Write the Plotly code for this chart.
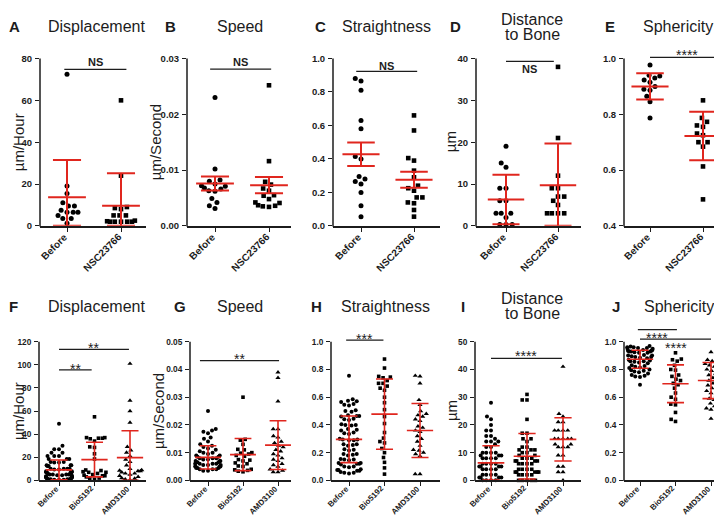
import math
import plotly.graph_objects as go

W, H = 722, 515
FONT = "Arial, Liberation Sans, Helvetica, sans-serif"
RED = "#E0261E"
INK = "#1c1c1c"

# ------------------------------------------------------------------ data
TOP_CATS = ["Before", "NSC23766"]
BOT_CATS = ["Before", "Bio5192", "AMD3100"]

A_before = [72.5, 19, 15.5, 11, 9.5, 9.5, 7.5, 6.5, 6.5, 6.5, 5, 3.5, 3.5, 1.2]
A_nsc = [60, 24, 9, 8.5, 8, 5, 5, 5, 2.5, 2.2, 2, 2, 2, 2, 2]
A_mean = [13.7, 9.6]
A_err = [17.8, 15.5]          # SD

B_before = [0.023, 0.0102, 0.0082, 0.008, 0.0075, 0.0072, 0.0071, 0.0068, 0.0066,
            0.0063, 0.0062, 0.0049, 0.0042, 0.0036, 0.0031]
B_nsc = [0.0252, 0.0116, 0.0079, 0.0074, 0.0067, 0.0063, 0.0055, 0.0054, 0.0048,
         0.0042, 0.0041, 0.0037, 0.0036, 0.0035, 0.0034]
B_mean = [0.0076, 0.0073]
B_err = [0.00125, 0.00145]    # SEM

C_before = [0.88, 0.865, 0.81, 0.63, 0.58, 0.415, 0.40, 0.295, 0.28, 0.265, 0.25,
            0.20, 0.12, 0.055]
C_nsc = [0.66, 0.57, 0.405, 0.39, 0.33, 0.29, 0.24, 0.225, 0.21, 0.17, 0.17, 0.14,
         0.135, 0.095, 0.055]
C_mean = [0.428, 0.276]
C_err = [0.07, 0.048]         # SEM

D_before = [19, 15, 14, 9, 9, 6, 6, 3, 3, 3, 2, 0.3, 0.3, 0.3]
D_nsc = [38, 21, 12, 9, 9, 7, 7, 6, 5, 3, 3, 3, 3]
D_mean = [6.3, 9.7]
D_err = [5.9, 10.0]           # SD

E_before = [0.977, 0.94, 0.937, 0.93, 0.923, 0.915, 0.90, 0.89, 0.886, 0.865, 0.845,
            0.787]
E_nsc = [0.85, 0.787, 0.773, 0.76, 0.755, 0.731, 0.725, 0.70, 0.70, 0.684, 0.613,
         0.495]
E_mean = [0.90, 0.722]
E_err = [0.047, 0.087]        # SD

F_before = [49, 30, 27, 27, 24, 24, 21, 21, 21, 18.5, 18.5, 18.5, 16, 16, 15.5, 15.5,
            13, 13, 13, 12.5, 12.5, 10, 10, 10, 10, 9.5, 9.5, 8, 8, 7, 7, 7, 7, 6.5,
            6.5, 6, 5, 5, 5, 5, 4.5, 4.5, 4, 3.5, 3, 3, 3, 3, 2.5, 2.5, 2, 2, 1.5,
            1.5, 1, 1, 1, 1, 0.5, 0.5, 0.5]
F_bio = [55, 37, 37, 36.5, 36.5, 36, 34, 29, 28.5, 23, 18.5, 9, 8.5, 7.5, 7, 7, 6, 5,
         4.5, 4, 4, 3, 2, 1.5, 1]
F_amd = [101, 69, 60, 50, 29, 26, 24, 21, 18, 16, 13, 10, 9, 8.5, 8, 8, 7, 6, 6, 5, 4,
         3, 2, 1.5, 1, 0.5]
F_mean = [9.1, 18.0, 19.7]
F_err = [8.5, 15.0, 23.2]

G_before = [0.025, 0.0185, 0.018, 0.0175, 0.017, 0.0155, 0.015, 0.014, 0.013, 0.0125,
            0.012, 0.0115, 0.011, 0.0105, 0.01, 0.01, 0.0095, 0.009, 0.009, 0.0085,
            0.0085, 0.008, 0.008, 0.008, 0.0075, 0.0075, 0.007, 0.007, 0.007, 0.0065,
            0.0065, 0.0065, 0.006, 0.006, 0.006, 0.006, 0.0055, 0.0055, 0.0055, 0.005,
            0.005, 0.005, 0.005, 0.0045, 0.0045, 0.0045, 0.004, 0.004, 0.004, 0.0035,
            0.0035]
G_bio = [0.030, 0.0148, 0.0145, 0.013, 0.0112, 0.011, 0.0100, 0.0098, 0.0095, 0.009,
         0.0087, 0.0075, 0.0073, 0.007, 0.0063, 0.006, 0.0052, 0.005, 0.004, 0.0038,
         0.0036, 0.0033, 0.0031]
G_amd = [0.039, 0.037, 0.0285, 0.0185, 0.0185, 0.016, 0.0155, 0.014, 0.0135, 0.0125,
         0.012, 0.011, 0.0105, 0.0095, 0.009, 0.008, 0.0075, 0.007, 0.006, 0.0055,
         0.005, 0.004, 0.0035, 0.003, 0.003]
G_mean = [0.0083, 0.0093, 0.0127]
G_err = [0.0042, 0.0058, 0.0088]

H_before = [0.755, 0.585, 0.575, 0.57, 0.565, 0.55, 0.545, 0.54, 0.505, 0.50, 0.495,
            0.47, 0.465, 0.46, 0.465, 0.445, 0.44, 0.435, 0.405, 0.40, 0.395, 0.40,
            0.37, 0.365, 0.36, 0.345, 0.34, 0.335, 0.30, 0.295, 0.29, 0.295, 0.29,
            0.26, 0.255, 0.26, 0.25, 0.225, 0.22, 0.215, 0.19, 0.185, 0.19, 0.18,
            0.155, 0.15, 0.145, 0.15, 0.125, 0.12, 0.12, 0.125, 0.115, 0.10, 0.095,
            0.10, 0.075, 0.07, 0.075, 0.07, 0.08, 0.055, 0.06, 0.05, 0.055]
H_bio = [0.875, 0.81, 0.75, 0.745, 0.74, 0.72, 0.70, 0.70, 0.68, 0.665, 0.65, 0.6,
         0.56, 0.51, 0.46, 0.41, 0.345, 0.305, 0.28, 0.27, 0.23, 0.20, 0.165, 0.13,
         0.09, 0.045]
H_amd = [0.755, 0.75, 0.70, 0.58, 0.545, 0.50, 0.48, 0.47, 0.46, 0.44, 0.43, 0.39,
         0.38, 0.36, 0.35, 0.32, 0.30, 0.28, 0.25, 0.22, 0.215, 0.2, 0.19, 0.175,
         0.045, 0.045]
H_mean = [0.296, 0.478, 0.36]
H_err = [0.168, 0.253, 0.195]

I_before = [28, 23, 22, 20, 18, 18, 16, 16, 15, 14, 14, 14, 13, 12, 12, 10, 10, 10, 10,
            9, 9, 9, 8, 8, 8, 8, 6, 6, 6, 6, 5, 5, 5, 5, 4, 4, 4, 4, 2, 2, 2, 2, 1, 1,
            1, 1, 0, 0, 0, 0]
I_bio = [31, 29, 29, 22, 17, 17, 15, 15, 14, 12, 12, 11, 11, 11, 10, 10, 9, 9, 8, 8, 8,
         7, 7, 7, 7, 6, 6, 6, 6, 4, 4, 4, 4, 3, 3, 3, 3, 3, 2, 2, 2, 2, 0, 0, 0, 0, 0]
I_amd = [41, 24, 23, 21, 21, 18, 18, 18, 18, 15, 15, 15, 15, 15, 13, 13, 12, 12, 12, 9,
         9, 5, 5, 3, 3, 0]
I_mean = [6.3, 8.7, 14.8]
I_err = [6.2, 8.2, 7.8]

J_before = [0.97, 0.965, 0.96, 0.96, 0.955, 0.955, 0.95, 0.95, 0.94, 0.94, 0.935, 0.935,
            0.93, 0.93, 0.93, 0.925, 0.92, 0.92, 0.905, 0.90, 0.90, 0.895, 0.89, 0.89,
            0.885, 0.88, 0.87, 0.865, 0.86, 0.86, 0.855, 0.85, 0.845, 0.83, 0.825,
            0.82, 0.815, 0.81, 0.80, 0.795, 0.79, 0.785, 0.78, 0.77, 0.76, 0.755, 0.75,
            0.745, 0.69]
J_bio = [0.92, 0.875, 0.87, 0.86, 0.83, 0.80, 0.795, 0.76, 0.75, 0.73, 0.72, 0.70, 0.69,
         0.665, 0.63, 0.6, 0.585, 0.55, 0.545, 0.49, 0.44, 0.425]
J_amd = [0.925, 0.87, 0.86, 0.84, 0.83, 0.82, 0.80, 0.79, 0.77, 0.76, 0.74, 0.72, 0.70,
         0.685, 0.665, 0.645, 0.63, 0.61, 0.59, 0.58, 0.555, 0.535, 0.52, 0.51, 0.445]
J_mean = [0.874, 0.697, 0.72]
J_err = [0.065, 0.136, 0.13]

# ------------------------------------------------------------------ layout config
ROWS = {0: dict(base=220, top=51, title_y=19, mk=5.0, gap=6.5, half=17.0, lw=2.0,
                mh=0.35, ch=0.26, xfs=10, yfs=9.5, lab_dx=4, lab_dy=4),
        1: dict(base=477, top=337, title_y=301, mk=4.0, gap=5.0, half=13.0, lw=1.6,
                mh=0.37, ch=0.24, xfs=8, yfs=8.3, lab_dx=3, lab_dy=2)}
SYMBOLS = ["circle", "square", "triangle-up"]

panels = [
    dict(letter="A", title=["Displacement"], ytitle="µm/Hour", cats=TOP_CATS,
         groups=[A_before, A_nsc], mean=A_mean, err=A_err, yr=(0, 80),
         ticks=[0, 20, 40, 60, 80], fmt="d", row=0, left=32, right=138, cat0=59, unit=54,
         lx=7, tx=88, ytx=10, sig=[(-0.05, 1.1, 74.8, "NS", 78.2)]),
    dict(letter="B", title=["Speed"], ytitle="µm/Second", cats=TOP_CATS,
         groups=[B_before, B_nsc], mean=B_mean, err=B_err, yr=(0, 0.03),
         ticks=[0, 0.01, 0.02, 0.03], fmt=".2f", row=0, left=179, right=283, cat0=207,
         unit=54, lx=162, tx=232, ytx=147, sig=[(-0.09, 1.04, 0.0281, "NS", 0.0293)]),
    dict(letter="C", title=["Straightness"], ytitle=None, cats=TOP_CATS,
         groups=[C_before, C_nsc], mean=C_mean, err=C_err, yr=(0, 1.0),
         ticks=[0, 0.2, 0.4, 0.6, 0.8, 1.0], fmt=".1f", row=0, left=325, right=432,
         cat0=353, unit=53, lx=312, tx=378, ytx=None,
         sig=[(-0.09, 1.06, 0.923, "NS", 0.958)]),
    dict(letter="D", title=["Distance", "to Bone"], ytitle="µm", cats=TOP_CATS,
         groups=[D_before, D_nsc], mean=D_mean, err=D_err, yr=(0, 40),
         ticks=[0, 10, 20, 30, 40], fmt="d", row=0, left=468, right=573, cat0=498,
         unit=52, lx=447, tx=524, ytx=442, sig=[(0, 0.92, 39.3, "NS", 37.4)]),
    dict(letter="E", title=["Sphericity"], ytitle=None, cats=TOP_CATS,
         groups=[E_before, E_nsc], mean=E_mean, err=E_err, yr=(0.4, 1.0),
         ticks=[0.4, 0.6, 0.8, 1.0], fmt=".1f", row=0, left=616, right=722, cat0=642,
         unit=53, lx=602, tx=670, ytx=None, sig=[(0, 1.38, 1.004, "****", 1.024)]),
    dict(letter="F", title=["Displacement"], ytitle="µm/Hour", cats=BOT_CATS,
         groups=[F_before, F_bio, F_amd], mean=F_mean, err=F_err, yr=(0, 120),
         ticks=[0, 20, 40, 60, 80, 100, 120], fmt="d", row=1, left=31, right=138,
         cat0=51, unit=35.5, lx=5, tx=88, ytx=10,
         sig=[(0, 1.97, 113.4, "**", 117.0), (0, 0.92, 95.7, "**", 99.3)]),
    dict(letter="G", title=["Speed"], ytitle="µm/Second", cats=BOT_CATS,
         groups=[G_before, G_bio, G_amd], mean=G_mean, err=G_err, yr=(0, 0.05),
         ticks=[0, 0.01, 0.02, 0.03, 0.04, 0.05], fmt=".2f", row=1, left=182, right=283,
         cat0=200, unit=35, lx=172, tx=232, ytx=150,
         sig=[(-0.23, 2.03, 0.0432, "**", 0.0447)]),
    dict(letter="H", title=["Straightness"], ytitle=None, cats=BOT_CATS,
         groups=[H_before, H_bio, H_amd], mean=H_mean, err=H_err, yr=(0, 1.0),
         ticks=[0, 0.2, 0.4, 0.6, 0.8, 1.0], fmt=".1f", row=1, left=323, right=432,
         cat0=341, unit=35.5, lx=308, tx=377, ytx=None,
         sig=[(-0.08, 0.97, 1.012, "***", 1.042)]),
    dict(letter="I", title=["Distance", "to Bone"], ytitle="µm", cats=BOT_CATS,
         groups=[I_before, I_bio, I_amd], mean=I_mean, err=I_err, yr=(0, 50),
         ticks=[0, 10, 20, 30, 40, 50], fmt="d", row=1, left=467, right=573, cat0=483,
         unit=36, lx=455, tx=524, ytx=443, sig=[(0, 1.97, 44.0, "****", 45.8)]),
    dict(letter="J", title=["Sphericity"], ytitle=None, cats=BOT_CATS,
         groups=[J_before, J_bio, J_amd], mean=J_mean, err=J_err, yr=(0, 1.0),
         ticks=[0, 0.2, 0.4, 0.6, 0.8, 1.0], fmt=".1f", row=1, left=616, right=722,
         cat0=632, unit=35.5, lx=608, tx=671, ytx=None,
         sig=[(-0.06, 1.04, 1.088, "****", 1.048), (0, 2.0, 1.019, "****", 0.978)]),
]


def swarm(vals, ppu_y, unit_x, d, half):
    """Compact beeswarm offsets (category units), softly limited to +-half px."""
    order = sorted(range(len(vals)), key=lambda i: vals[i])
    placed = []
    out = [0.0] * len(vals)
    for i in order:
        y = vals[i] * ppu_y
        near = [(px, py) for px, py in placed if abs(py - y) < d]
        cands = [0.0]
        for px, py in near:
            dx = math.sqrt(max(d * d - (py - y) ** 2, 0))
            cands += [px - dx, px + dx]
        cands.sort(key=lambda c: (abs(c), c))
        chosen = cands[-1]
        for c in cands:
            if all((c - px) ** 2 + (y - py) ** 2 >= d * d - 1e-6 for px, py in near):
                chosen = c
                break
        placed.append((chosen, y))
        out[i] = half * math.tanh(chosen / half) / unit_x
    return out


fig = go.Figure()
layout = dict(width=W, height=H, margin=dict(l=0, r=0, t=0, b=0),
              paper_bgcolor="white", plot_bgcolor="white", showlegend=False,
              font=dict(family=FONT, color=INK))
shapes, annotations = [], []

for k, p in enumerate(panels):
    n = "" if k == 0 else str(k + 1)
    xa, ya = "x" + n, "y" + n
    r = ROWS[p["row"]]
    rmin, ttop = p["yr"]
    span = ttop - rmin
    rmax = ttop + 0.16 * span
    ppu = (r["base"] - r["top"]) / span
    dom_top = r["base"] - (rmax - rmin) * ppu
    xr = [-(p["cat0"] - p["left"]) / p["unit"], (p["right"] - p["cat0"]) / p["unit"]]

    layout["xaxis" + n] = dict(
        domain=[p["left"] / W, p["right"] / W], range=xr, anchor=ya,
        showline=True, linewidth=1.5, linecolor=INK, ticks="outside", ticklen=4,
        tickwidth=1.3, tickcolor=INK, showgrid=False, zeroline=False,
        tickmode="array", tickvals=list(range(len(p["cats"]))), showticklabels=False,
        fixedrange=True)
    layout["yaxis" + n] = dict(
        domain=[1 - r["base"] / H, 1 - dom_top / H], range=[rmin, rmax], anchor=xa,
        showline=False, ticks="outside", ticklen=4, tickwidth=1.3, tickcolor=INK,
        showgrid=False, zeroline=False, tickmode="array", tickvals=p["ticks"],
        tickformat=p["fmt"], ticklabelstandoff=1,
        tickfont=dict(family=FONT, size=r["yfs"], color=INK, weight="bold"),
        fixedrange=True)

    # rotated category labels (end of text just below its tick)
    for j, c in enumerate(p["cats"]):
        annotations.append(dict(
            xref=xa, yref=ya, x=j, y=rmin, text="<b>%s</b>" % c, textangle=-45,
            showarrow=False, xanchor="right", yanchor="top",
            xshift=r["lab_dx"], yshift=-r["lab_dy"], borderpad=0,
            font=dict(family=FONT, size=r["xfs"], color=INK)))

    # y axis line only up to the top tick
    shapes.append(dict(type="line", xref="paper", yref="paper",
                       x0=p["left"] / W, x1=p["left"] / W,
                       y0=1 - (r["base"] + 0.75) / H, y1=1 - r["top"] / H,
                       line=dict(color=INK, width=1.5)))

    # points
    for j, vals in enumerate(p["groups"]):
        offs = swarm(vals, ppu, p["unit"], r["gap"], r["half"])
        sym = SYMBOLS[j] if p["row"] == 1 else SYMBOLS[min(j, 1)]
        size = r["mk"] + (0.6 if sym == "triangle-up" else 0) - (0.4 if sym == "square" else 0)
        fig.add_trace(go.Scatter(
            x=[j + o for o in offs], y=vals, mode="markers", xaxis=xa, yaxis=ya,
            cliponaxis=False, hoverinfo="skip",
            marker=dict(symbol=sym, size=size, color="black", line=dict(width=0))))

    # mean and error bars
    ex, ey = [], []
    for j, (m, e) in enumerate(zip(p["mean"], p["err"])):
        hi = m + e
        lo = max(m - e, rmin)
        ex += [j - r["mh"], j + r["mh"], None, j - r["ch"], j + r["ch"], None,
               j - r["ch"], j + r["ch"], None, j, j, None]
        ey += [m, m, None, hi, hi, None, lo, lo, None, lo, hi, None]
    fig.add_trace(go.Scatter(x=ex, y=ey, mode="lines", xaxis=xa, yaxis=ya,
                             hoverinfo="skip", line=dict(color=RED, width=r["lw"])))

    # significance bars
    for (x0, x1, yl, txt, ty) in p["sig"]:
        shapes.append(dict(type="line", xref=xa, yref=ya, x0=x0, x1=x1, y0=yl, y1=yl,
                           line=dict(color=INK, width=1.3)))
        star = txt.startswith("*")
        annotations.append(dict(
            xref=xa, yref=ya, x=(x0 + x1) / 2, y=ty, text=txt, showarrow=False,
            xanchor="center", yanchor="middle", yshift=-3 if star else 0,
            font=dict(family=FONT, size=14 if star else 11, color=INK,
                      weight="normal" if star else "bold")))

    # panel letter, title, y title
    ty0 = r["title_y"]
    annotations.append(dict(xref="paper", yref="paper", x=p["lx"] / W, y=1 - ty0 / H,
                            text="<b>%s</b>" % p["letter"], showarrow=False,
                            xanchor="center", yanchor="middle",
                            font=dict(family=FONT, size=15, color=INK)))
    lines = p["title"]
    for li, t in enumerate(lines):
        yy = ty0 + (li - (len(lines) - 1) / 2) * 15.5
        annotations.append(dict(xref="paper", yref="paper", x=p["tx"] / W, y=1 - yy / H,
                                text=t, showarrow=False, xanchor="center",
                                yanchor="middle",
                                font=dict(family=FONT, size=16, color=INK)))
    if p["ytitle"]:
        annotations.append(dict(xref="paper", yref="paper", x=p["ytx"] / W,
                                y=1 - (r["base"] + r["top"]) / 2 / H, text=p["ytitle"],
                                textangle=-90, showarrow=False, xanchor="center",
                                yanchor="middle",
                                font=dict(family=FONT, size=15, color=INK)))

layout["shapes"] = shapes
layout["annotations"] = annotations
fig.update_layout(**layout)
fig.write_html("out.html")
